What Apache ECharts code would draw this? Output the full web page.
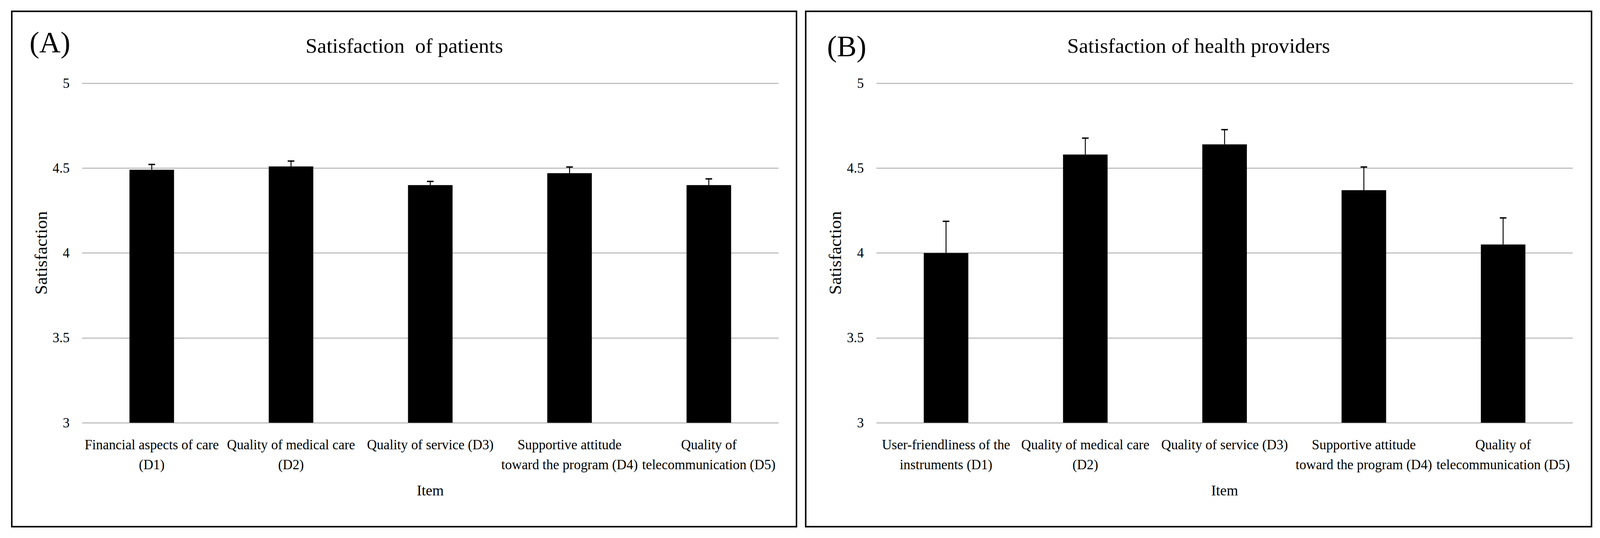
<!DOCTYPE html>
<html><head><meta charset="utf-8">
<script src="https://cdn.jsdelivr.net/npm/echarts@6/dist/echarts.min.js"></script>
<style>html,body{margin:0;padding:0;background:#fff;overflow:hidden;} #c{width:100vw;height:100vh;}</style>
</head><body><div id="c"></div>
<script>
// ---- data ----
const categoriesA = [
  'Financial aspects of care\n(D1)',
  'Quality of medical care\n(D2)',
  'Quality of service (D3)',
  'Supportive attitude\ntoward the program (D4)',
  'Quality of\ntelecommunication (D5)'
];
const categoriesB = [
  'User-friendliness of the\ninstruments (D1)',
  'Quality of medical care\n(D2)',
  'Quality of service (D3)',
  'Supportive attitude\ntoward the program (D4)',
  'Quality of\ntelecommunication (D5)'
];
const meanA = [4.49, 4.51, 4.40, 4.47, 4.40];
const errA  = [0.035, 0.035, 0.025, 0.04, 0.04];
const meanB = [4.00, 4.58, 4.64, 4.37, 4.05];
const errB  = [0.19, 0.10, 0.09, 0.14, 0.16];
const yTicks = [3, 3.5, 4, 4.5, 5];
const titleA = 'Satisfaction  of patients';
const titleB = 'Satisfaction of health providers';
const panelA = '(A)';
const panelB = '(B)';
const yName = 'Satisfaction';
const xName = 'Item';

// ---- layout (designed for 4345 x 1377, scaled to the real viewport) ----
const W = window.innerWidth || 4345, H = window.innerHeight || 1377;
const sx = W / 4345, sy = H / 1377, sf = Math.min(sx, sy);
const X = v => v * sx, Y = v => v * sy, F = v => v * sf;
const FONT = '"Liberation Serif", "Times New Roman", serif';
const chart = echarts.init(document.getElementById('c'), null, {renderer: 'svg', width: W, height: H});

function yAxisCfg(gi) {
  return {
    type: 'value', gridIndex: gi,
    min: yTicks[0], max: yTicks[yTicks.length - 1], interval: yTicks[1] - yTicks[0],
    name: yName, nameLocation: 'middle', nameGap: X(88), nameMoveOverlap: false,
    nameTextStyle: {fontFamily: FONT, fontSize: F(48), color: '#000'},
    axisLine: {show: false}, axisTick: {show: false},
    axisLabel: {fontFamily: FONT, fontSize: F(37), color: '#000', margin: X(34)},
    splitLine: {show: true, lineStyle: {color: '#c0c0c0', width: Math.max(1, Y(3))}}
  };
}
function xAxisCfg(gi, cats) {
  return {
    type: 'category', gridIndex: gi, data: cats,
    name: xName, nameLocation: 'middle', nameGap: Y(154), nameMoveOverlap: false,
    nameTextStyle: {fontFamily: FONT, fontSize: F(40), color: '#000'},
    axisLine: {show: false}, axisTick: {show: false},
    axisLabel: {interval: 0, fontFamily: FONT, fontSize: F(37), lineHeight: Y(51), color: '#000', margin: Y(31), hideOverlap: false}
  };
}
function errRender(params, api) {
  const x = api.value(0), v = api.value(1), e = api.value(2);
  const p0 = api.coord([x, v]);
  const p1 = api.coord([x, v + e]);
  const cap = X(9);
  return {
    type: 'group',
    children: [
      {type: 'line', shape: {x1: p0[0], y1: p0[1], x2: p1[0], y2: p1[1]}, style: {stroke: '#000', lineWidth: X(2.5)}},
      {type: 'line', shape: {x1: p1[0] - cap, y1: p1[1] + Y(1.5), x2: p1[0] + cap, y2: p1[1] + Y(1.5)}, style: {stroke: '#000', lineWidth: Y(3.5)}}
    ]
  };
}
function txt(x, y, text, size, align) {
  return {type: 'text', x: X(x), y: Y(y), z: 10,
    style: {text: text, fontFamily: FONT, fontSize: F(size), fill: '#000',
      align: align, verticalAlign: 'middle', textAlign: align, textVerticalAlign: 'middle'}};
}

const option = {
  animation: false,
  backgroundColor: '#fff',
  grid: [
    {left: X(223), top: Y(213), width: X(1891), height: Y(869)},
    {left: X(2380), top: Y(213), width: X(1891), height: Y(869)}
  ],
  xAxis: [xAxisCfg(0, categoriesA), xAxisCfg(1, categoriesB)],
  yAxis: [yAxisCfg(0), yAxisCfg(1)],
  series: [
    {type: 'bar', xAxisIndex: 0, yAxisIndex: 0, data: meanA, barWidth: '32%', itemStyle: {color: '#000'}, z: 2},
    {type: 'bar', xAxisIndex: 1, yAxisIndex: 1, data: meanB, barWidth: '32%', itemStyle: {color: '#000'}, z: 2},
    {type: 'custom', xAxisIndex: 0, yAxisIndex: 0, renderItem: errRender, z: 3,
      encode: {x: 0, y: 1}, data: meanA.map((v, i) => [i, v, errA[i]])},
    {type: 'custom', xAxisIndex: 1, yAxisIndex: 1, renderItem: errRender, z: 3,
      encode: {x: 0, y: 1}, data: meanB.map((v, i) => [i, v, errB[i]])}
  ],
  graphic: [
    {type: 'rect', shape: {x: X(32), y: Y(29), width: X(2131), height: Y(1319)}, style: {fill: 'none', stroke: '#000', lineWidth: Math.max(1.5, X(4))}},
    {type: 'rect', shape: {x: X(2188), y: Y(29), width: X(2134), height: Y(1319)}, style: {fill: 'none', stroke: '#000', lineWidth: Math.max(1.5, X(4))}},
    txt(1098, 117, titleA, 57, 'center'),
    txt(3255, 117, titleB, 57, 'center'),
    txt(80, 108, panelA, 80, 'left'),
    txt(2246, 118, panelB, 80, 'left')
  ]
};
chart.setOption(option);
</script></body></html>
